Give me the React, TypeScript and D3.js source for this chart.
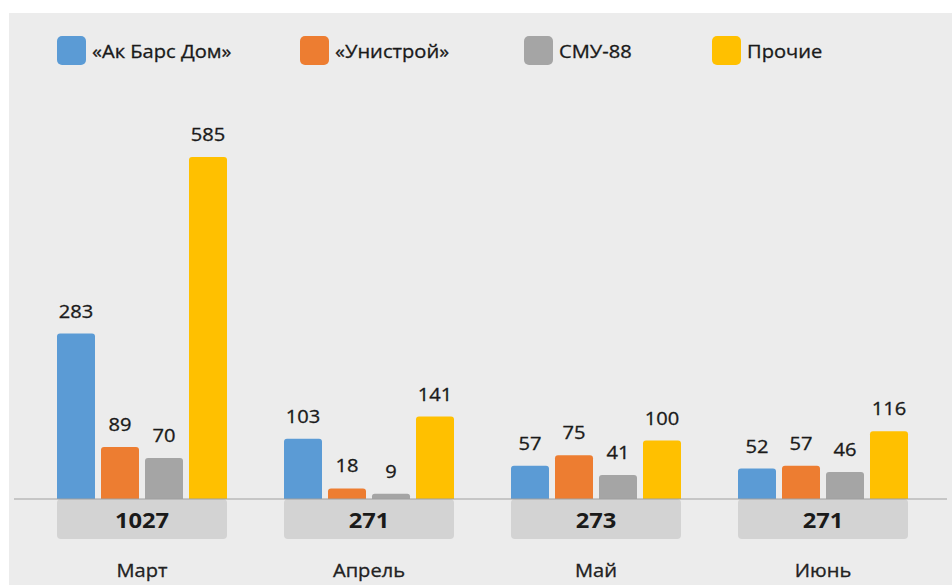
import React from "react";
import * as d3 from "d3";

const months = ["Март", "Апрель", "Май", "Июнь"];
const seriesNames = ["«Ак Барс Дом»", "«Унистрой»", "СМУ-88", "Прочие"];
const akBars = [283, 103, 57, 52];
const unistroy = [89, 18, 75, 57];
const smu88 = [70, 9, 41, 46];
const other = [585, 141, 100, 116];
const totals = [1027, 271, 273, 271];
const colors = ["#5b9bd5", "#ed7d31", "#a5a5a5", "#ffc000"];
const legendX = [57, 300, 524, 712];

const W = 952;
const H = 585;
const baseY = 499;
const SX = 1.13;

function topRounded(x: number, y: number, w: number, h: number, r: number) {
  const rr = Math.min(r, h / 2, w / 2);
  return `M${x},${y + h}V${y + rr}Q${x},${y} ${x + rr},${y}H${x + w - rr}Q${x + w},${y} ${x + w},${y + rr}V${y + h}Z`;
}

function T(props: { x: number; y: number; anchor?: string; size: number; weight?: string; fill?: string; children: any }) {
  const fill = props.fill || "#1a1a1a";
  return (
    <text
      transform={`translate(${props.x},${props.y}) scale(${SX},1)`}
      textAnchor={props.anchor || "start"}
      fontSize={props.size}
      fontWeight={props.weight || "normal"}
      fill={fill}
      stroke={props.weight ? "none" : fill}
      strokeWidth={0.3}
    >
      {props.children}
    </text>
  );
}

export default function App() {
  const series = [akBars, unistroy, smu88, other];
  const x0 = d3.scaleBand<string>().domain(months).range([28.5, 936.5]).paddingInner(0).paddingOuter(0);
  const groupW = 170;
  const x1 = d3.scaleBand<number>().domain([0, 1, 2, 3]).range([0, groupW]).paddingInner(0.1364).paddingOuter(0);
  const y = d3.scaleLinear().domain([0, 585]).range([baseY, 157]);
  const font = "'Open Sans', 'Noto Sans', sans-serif";

  return (
    <svg width={W} height={H} style={{ position: "absolute", left: 0, top: 0 }} fontFamily={font}>
      <rect x={0} y={0} width={W} height={H} fill="#fff" />
      <rect x={9} y={13} width={W - 9} height={H - 13} fill="#ececec" />
      {seriesNames.map((n, i) => (
        <g key={n}>
          <rect x={legendX[i]} y={36} width={29} height={29} rx={5} fill={colors[i]} />
          <T x={legendX[i] + 35} y={57.5} size={17.8}>{n}</T>
        </g>
      ))}
      {months.map((m, gi) => {
        const gx = (x0(m) as number) + (x0.bandwidth() - groupW) / 2;
        const cx = gx + groupW / 2;
        return (
          <g key={m}>
            <rect x={gx} y={baseY} width={groupW} height={40} rx={4} fill="#d3d3d3" />
            <T x={cx} y={527.5} anchor="middle" size={21} weight="bold">{totals[gi]}</T>
            <T x={cx} y={576.5} anchor="middle" size={17.8} fill="#222">{m}</T>
            {series.map((s, si) => {
              const bx = gx + (x1(si) as number);
              const bw = x1.bandwidth();
              const top = y(s[gi]);
              return (
                <g key={si}>
                  <path d={topRounded(bx, top, bw, baseY - top, 3)} fill={colors[si]} />
                  <T x={bx + bw / 2} y={top - 16} anchor="middle" size={17.8}>{s[gi]}</T>
                </g>
              );
            })}
          </g>
        );
      })}
      <line x1={14} x2={947} y1={baseY} y2={baseY} stroke="#a0a0a0" strokeWidth={1.2} />
    </svg>
  );
}
